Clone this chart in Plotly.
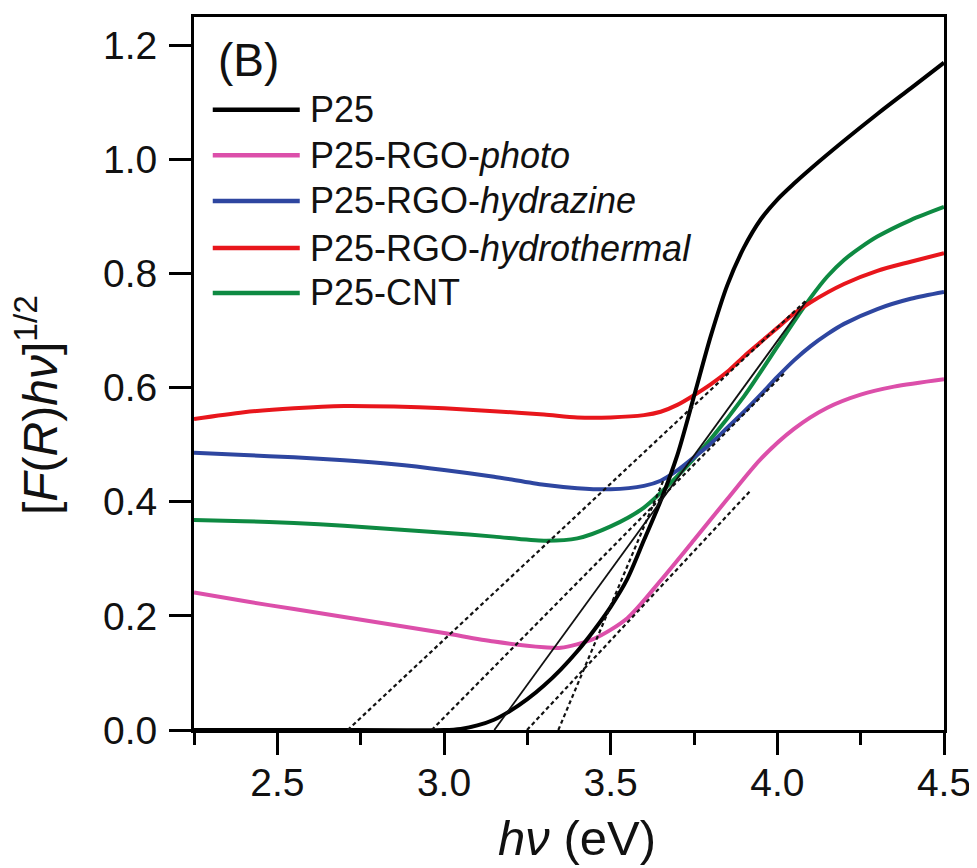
import plotly.graph_objects as go

# ---------------- data ----------------
series_names = ["P25", "P25-RGO-<i>photo</i>", "P25-RGO-<i>hydrazine</i>",
                "P25-RGO-<i>hydrothermal</i>", "P25-CNT"]
series_colors = ["#000000", "#DC4FAA", "#2E46A0", "#E8161C", "#0E8A42"]

p25_x = [2.25, 2.6, 3.0, 3.05, 3.1, 3.15, 3.2, 3.25, 3.3, 3.35, 3.4, 3.45, 3.5, 3.55,
         3.6, 3.65, 3.7, 3.75, 3.8, 3.85, 3.9, 3.95, 4.0, 4.05, 4.1, 4.2, 4.3, 4.4, 4.5]
p25_y = [0.0, 0.0, 0.0, 0.002, 0.008, 0.018, 0.034, 0.054, 0.078, 0.106, 0.138, 0.175,
         0.216, 0.265, 0.333, 0.402, 0.482, 0.585, 0.69, 0.78, 0.846, 0.895, 0.93,
         0.958, 0.984, 1.033, 1.08, 1.125, 1.17]

photo_x = [2.25, 2.4, 2.55, 2.7, 2.85, 3.0, 3.15, 3.3, 3.35, 3.45, 3.55, 3.65, 3.75,
           3.85, 3.95, 4.05, 4.15, 4.25, 4.35, 4.5]
photo_y = [0.241, 0.226, 0.212, 0.198, 0.184, 0.170, 0.155, 0.145, 0.144, 0.160, 0.196,
           0.262, 0.333, 0.405, 0.475, 0.528, 0.565, 0.588, 0.602, 0.615]

hydrazine_x = [2.25, 2.4, 2.55, 2.7, 2.85, 3.0, 3.15, 3.3, 3.4, 3.5, 3.6, 3.65, 3.7,
               3.75, 3.8, 3.85, 3.9, 3.95, 4.0, 4.05, 4.1, 4.15, 4.2, 4.3, 4.4, 4.5]
hydrazine_y = [0.486, 0.482, 0.478, 0.473, 0.466, 0.456, 0.444, 0.430, 0.424, 0.422,
               0.428, 0.437, 0.455, 0.478, 0.502, 0.530, 0.558, 0.588, 0.619, 0.648,
               0.673, 0.694, 0.712, 0.738, 0.756, 0.768]

hydrothermal_x = [2.25, 2.4, 2.55, 2.7, 2.85, 3.0, 3.15, 3.3, 3.4, 3.5, 3.6, 3.65, 3.7,
                  3.75, 3.8, 3.85, 3.9, 3.95, 4.0, 4.05, 4.1, 4.2, 4.3, 4.4, 4.5]
hydrothermal_y = [0.545, 0.557, 0.564, 0.568, 0.567, 0.564, 0.559, 0.553, 0.548, 0.548,
                  0.552, 0.558, 0.570, 0.587, 0.606, 0.628, 0.655, 0.680, 0.705, 0.730,
                  0.750, 0.782, 0.805, 0.821, 0.836]

cnt_x = [2.25, 2.4, 2.55, 2.7, 2.85, 3.0, 3.15, 3.3, 3.4, 3.5, 3.6, 3.7, 3.8, 3.9, 4.0,
         4.05, 4.1, 4.15, 4.2, 4.25, 4.3, 4.4, 4.5]
cnt_y = [0.368, 0.366, 0.363, 0.358, 0.352, 0.346, 0.339, 0.332, 0.336, 0.357, 0.390,
         0.445, 0.510, 0.585, 0.672, 0.716, 0.758, 0.795, 0.824, 0.846, 0.865, 0.894, 0.917]

series_x = [p25_x, photo_x, hydrazine_x, hydrothermal_x, cnt_x]
series_y = [p25_y, photo_y, hydrazine_y, hydrothermal_y, cnt_y]

# tangent (band-gap extrapolation) lines: start on the x axis, end near the curve
tangent_x = [[3.343, 3.66], [3.249, 3.92], [3.151, 4.086], [2.963, 4.02], [2.711, 4.09]]
tangent_y = [[0.0, 0.44], [0.0, 0.42], [0.0, 0.751], [0.0, 0.625], [0.0, 0.755]]
tangent_dash = ["4px,3px", "4px,3px", "solid", "4px,3px", "4px,3px"]
tangent_width = [2.2, 2.2, 1.8, 2.2, 2.2]

x_ticks = [2.5, 3.0, 3.5, 4.0, 4.5]
x_ticklabels = ["2.5", "3.0", "3.5", "4.0", "4.5"]
x_minor = [2.25, 2.75, 3.25, 3.75, 4.25]
y_ticks = [0.0, 0.2, 0.4, 0.6, 0.8, 1.0, 1.2]
y_ticklabels = ["0.0", "0.2", "0.4", "0.6", "0.8", "1.0", "1.2"]

FONT = "Liberation Sans, Arial, sans-serif"
TXT = "#111111"

fig = go.Figure()

# data curves (black drawn last, on top)
for i in [4, 3, 2, 1, 0]:
    fig.add_trace(go.Scatter(
        x=series_x[i], y=series_y[i], mode="lines",
        line=dict(color=series_colors[i], width=4, shape="spline", smoothing=0.8),
        name=series_names[i], showlegend=False, hoverinfo="skip"))

for tx, ty, td, tw in zip(tangent_x, tangent_y, tangent_dash, tangent_width):
    fig.add_trace(go.Scatter(
        x=tx, y=ty, mode="lines",
        line=dict(color="#111111", width=tw, dash=td),
        showlegend=False, hoverinfo="skip"))

# custom legend (long line samples as in the reference)
leg_y = [0.870, 0.806, 0.742, 0.676, 0.613]
for name, col, yy in zip(series_names, series_colors, leg_y):
    fig.add_shape(type="line", xref="paper", yref="paper",
                  x0=0.025, x1=0.141, y0=yy, y1=yy,
                  line=dict(color=col, width=4.5))
    fig.add_annotation(xref="paper", yref="paper", x=0.152, y=yy,
                       xanchor="left", yanchor="middle", text=name,
                       showarrow=False, font=dict(family=FONT, size=36, color=TXT))

fig.add_annotation(xref="paper", yref="paper", x=0.029, y=0.939,
                   xanchor="left", yanchor="middle", text="(B)",
                   showarrow=False, font=dict(family=FONT, size=46, color=TXT))

# axis titles
fig.add_annotation(xref="paper", yref="paper", x=0.51, y=-0.152,
                   xanchor="center", yanchor="middle",
                   text="<i>h\u03bd</i> (eV)", showarrow=False,
                   font=dict(family=FONT, size=49, color=TXT))
fig.add_annotation(xref="paper", yref="paper", x=-0.21, y=0.455,
                   xanchor="center", yanchor="middle", textangle=-90,
                   text="[<i>F</i>(<i>R</i>)<i>h\u03bd</i>]<sup>1/2</sup>",
                   showarrow=False, font=dict(family=FONT, size=48, color=TXT))

axis_common = dict(showgrid=False, zeroline=False,
                   showline=True, linecolor="black", linewidth=3, mirror=True,
                   ticks="outside", ticklen=22, tickwidth=3, tickcolor="black")

fig.update_layout(
    width=969, height=860,
    margin=dict(l=186, r=32, t=6, b=138),
    paper_bgcolor="white", plot_bgcolor="white",
    showlegend=False,
    font=dict(family=FONT, color=TXT),
    xaxis=dict(range=[2.25, 4.5], tickvals=x_ticks, ticktext=x_ticklabels,
               minor=dict(ticks="outside", ticklen=12, tickwidth=3, tickcolor="black",
                          tickvals=x_minor),
               ticklabelstandoff=-6,
               tickfont=dict(family=FONT, size=39, color=TXT), **axis_common),
    yaxis=dict(range=[0.0, 1.25], tickvals=y_ticks, ticktext=y_ticklabels,
               ticklabelstandoff=4,
               tickfont=dict(family=FONT, size=39, color=TXT), **axis_common),
)

fig.write_html("out.html")
